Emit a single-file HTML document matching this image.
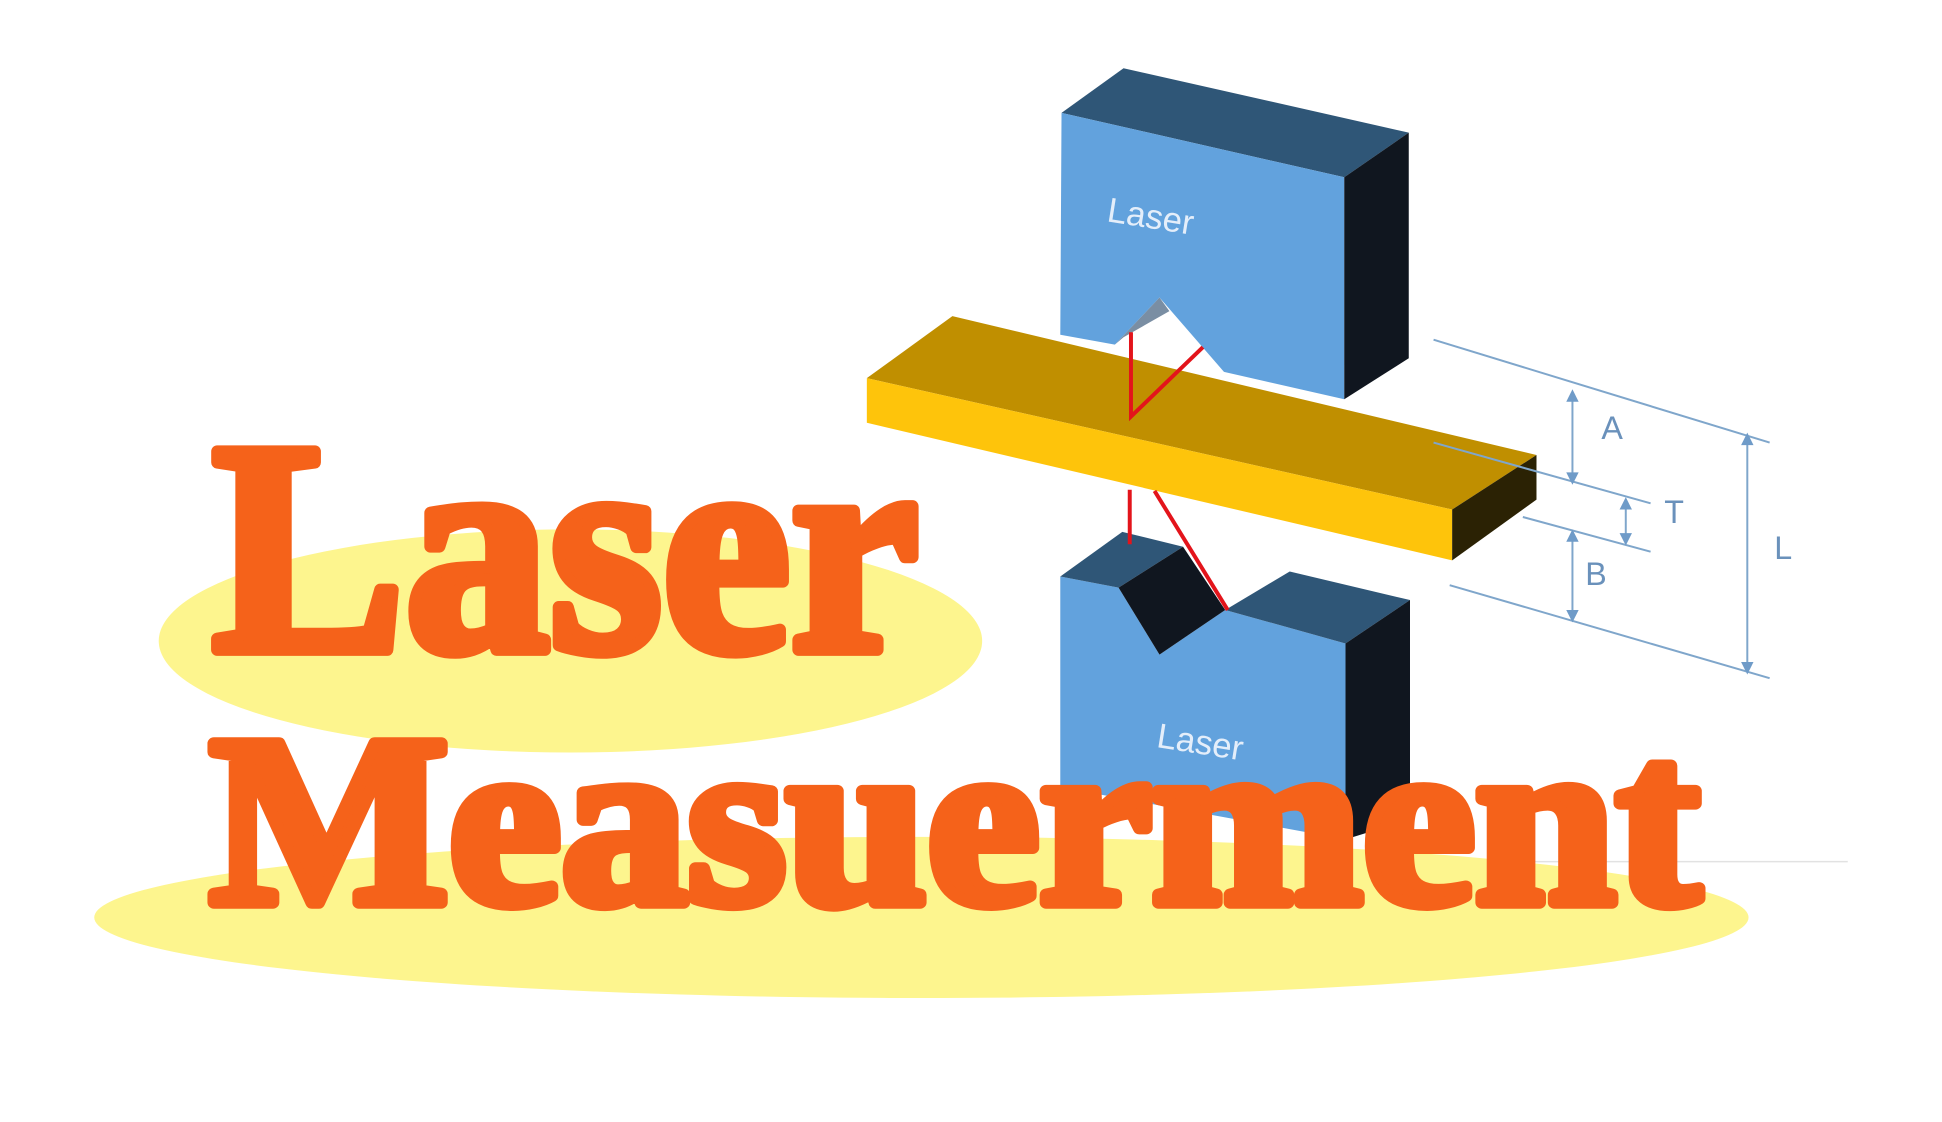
<!DOCTYPE html>
<html><head><meta charset="utf-8"><style>html,body{margin:0;padding:0;background:#fff;overflow:hidden}svg{display:block}</style></head>
<body>
<svg width="1942" height="1122" viewBox="0 0 1566 905" preserveAspectRatio="none" xmlns="http://www.w3.org/2000/svg">
<rect width="1566" height="905" fill="#fff"/>
<line x1="1140" y1="695" x2="1490" y2="695" stroke="#e2e2e2" stroke-width="1.2"/>
<!-- upper block -->
<polygon points="856,91 906,55 1136,107 1084,143" fill="#2f5677"/>
<polygon points="856,91 1084,143 1084,322 987,300 935,240 899,278 855,270" fill="#62a2dd"/>
<polygon points="899,278 935,240 943,251 906,272" fill="#7a8ea3"/>
<polygon points="1084,143 1136,107 1136,289 1084,322" fill="#10161f"/>
<text x="928" y="184" font-family="Liberation Sans, sans-serif" font-size="28" fill="#e4eefa" text-anchor="middle" transform="rotate(9 928 174)">Laser</text>
<!-- bar -->
<polygon points="699,305 768,255 1239,367 1171,411" fill="#c08f00"/>
<polygon points="699,305 1171,411 1171,452 699,341" fill="#fec40b"/>
<polygon points="1171,411 1239,367 1239,403 1171,452" fill="#2b2204"/>
<!-- red upper -->
<polyline points="912,268 912,336 970,280" fill="none" stroke="#e3141b" stroke-width="3.2"/>
<!-- lower block -->
<polygon points="855,465 902,474 935,528 988,492 1085,519 1085,677 855,635" fill="#62a2dd"/>
<polygon points="855,465 905,429 954,441 902,474" fill="#2f5677"/>
<polygon points="902,474 954,441 988,492 935,528" fill="#10161f"/>
<polygon points="988,492 1040,461 1137,484 1085,519" fill="#2f5677"/>
<polygon points="1085,519 1137,484 1137,661 1085,677" fill="#10161f"/>
<text x="968" y="608" font-family="Liberation Sans, sans-serif" font-size="28" fill="#e4eefa" text-anchor="middle" transform="rotate(9 968 598)">Laser</text>
<line x1="911" y1="395" x2="911" y2="439" stroke="#e3141b" stroke-width="3.2"/>
<line x1="931" y1="396" x2="990" y2="492" stroke="#e3141b" stroke-width="3.2"/>
<!-- dimension lines -->
<g stroke="#7fa6cb" stroke-width="1.6" fill="none">
<line x1="1156" y1="274" x2="1427" y2="357"/>
<line x1="1156" y1="357" x2="1331" y2="406"/>
<line x1="1228" y1="417" x2="1331" y2="445"/>
<line x1="1169" y1="472" x2="1427" y2="547"/>
<line x1="1268" y1="320" x2="1268" y2="385"/>
<line x1="1311" y1="407" x2="1311" y2="434"/>
<line x1="1268" y1="433" x2="1268" y2="496"/>
<line x1="1409" y1="355" x2="1409" y2="538"/>
</g>
<g fill="#6f9bc8">
<polygon points="1268,314 1263,324 1273,324"/>
<polygon points="1268,391 1263,381 1273,381"/>
<polygon points="1311,401 1306,411 1316,411"/>
<polygon points="1311,440 1306,430 1316,430"/>
<polygon points="1268,427 1263,437 1273,437"/>
<polygon points="1268,502 1263,492 1273,492"/>
<polygon points="1409,349 1404,359 1414,359"/>
<polygon points="1409,544 1404,534 1414,534"/>
</g>
<g font-family="Liberation Sans, sans-serif" font-size="26" fill="#6a91bb" text-anchor="middle">
<text x="1300" y="354">A</text>
<text x="1350" y="422">T</text>
<text x="1287" y="472">B</text>
<text x="1438" y="451">L</text>
</g>
<!-- ellipses -->
<ellipse cx="460" cy="517" rx="332" ry="90" fill="#fdf58e"/>
<ellipse cx="743" cy="740" rx="667" ry="65" fill="#fdf58e"/>
<!-- title -->
<g font-family="Liberation Serif, serif" font-weight="bold" fill="#f5621a" stroke="#f5621a" stroke-width="10" stroke-linejoin="round">
<text x="171" y="524" font-size="244" textLength="570" lengthAdjust="spacingAndGlyphs">Laser</text>
<text x="169" y="728" font-size="196" textLength="1202" lengthAdjust="spacingAndGlyphs">Measuerment</text>
</g>
</svg>
</body></html>
